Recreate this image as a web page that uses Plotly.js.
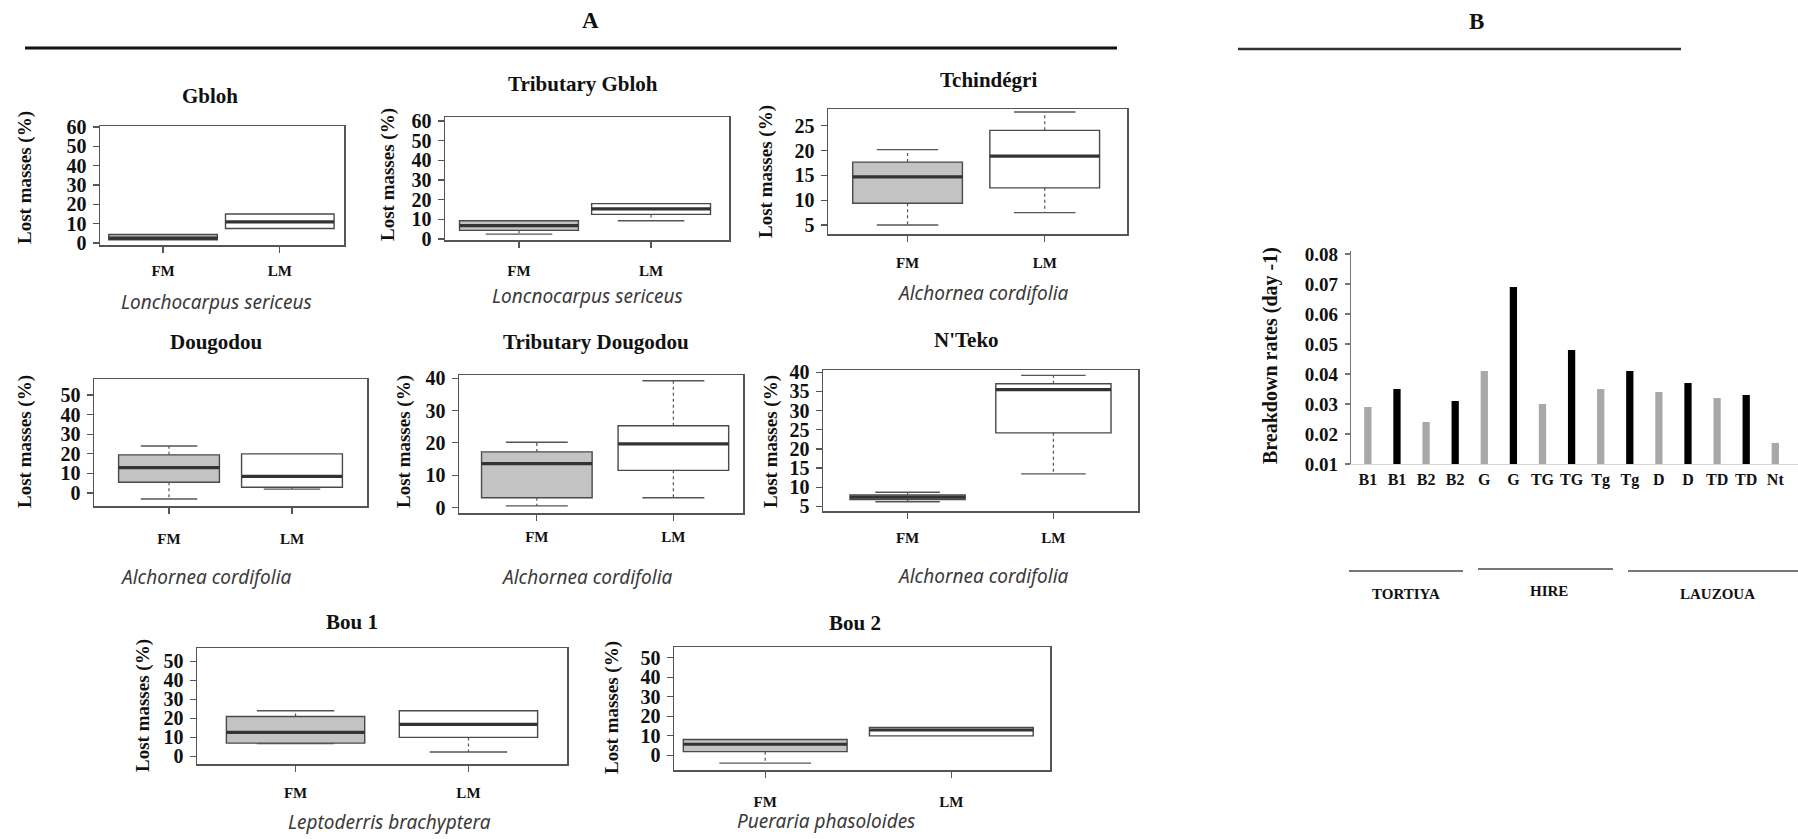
<!DOCTYPE html>
<html><head><meta charset="utf-8">
<script src="https://cdn.plot.ly/plotly-3.0.1.min.js"></script>
<style>html,body{margin:0;padding:0;background:#fff;}#chart{width:1798px;height:839px;}</style>
</head><body><div id="chart"></div>
<script>
// ---------- DATA ----------
const sites = ["Gbloh","Tributary Gbloh","Tchindégri","Dougodou","Tributary Dougodou","N'Teko","Bou 1","Bou 2"];
const species = ["Lonchocarpus sericeus","Loncnocarpus sericeus","Alchornea cordifolia","Alchornea cordifolia","Alchornea cordifolia","Alchornea cordifolia","Leptoderris brachyptera","Pueraria phasoloides"];
const groups = ["FM","LM"];
// FM boxes (lost masses %)
const fmMin = [1.7, 2.5, 5.0, -3.0, 0.5, 6.2, 6.7, -4.0];
const fmQ1  = [1.7, 4.4, 9.4, 5.5, 3.0, 6.8, 7.0, 1.9];
const fmMed = [2.6, 6.8, 14.7, 13.0, 13.6, 7.4, 12.6, 5.7];
const fmQ3  = [4.4, 9.3, 17.7, 19.5, 17.2, 8.0, 21.0, 8.1];
const fmMax = [4.4, 9.3, 20.2, 24.0, 20.2, 8.7, 24.0, 8.1];
// LM boxes (lost masses %)
const lmMin = [7.5, 9.3, 7.5, 2.0, 3.0, 13.5, 2.3, 10.0];
const lmQ1  = [7.5, 12.5, 12.5, 3.0, 11.5, 24.2, 10.0, 10.0];
const lmMed = [11.0, 15.3, 18.9, 8.5, 19.7, 35.5, 16.8, 13.0];
const lmQ3  = [15.0, 18.0, 24.1, 20.0, 25.3, 37.0, 24.0, 14.3];
const lmMax = [15.0, 18.0, 27.8, 20.0, 39.2, 39.2, 24.0, 14.3];
const yTickStep = [10, 10, 5, 10, 10, 5, 10, 10];
// Panel B
const barCodes = ["B1","B1","B2","B2","G","G","TG","TG","Tg","Tg","D","D","TD","TD","Nt"];
const rates = [0.029,0.035,0.024,0.031,0.041,0.069,0.030,0.048,0.035,0.041,0.034,0.037,0.032,0.033,0.017];
const rateTicks = [0.01,0.02,0.03,0.04,0.05,0.06,0.07,0.08];
const regions = ["TORTIYA","HIRE","LAUZOUA"];

// ---------- GEOMETRY / STYLE ----------
const W = 1798, H = 839;
const frames = [[100,344,126,245],[445,729,117,240],[828,1127,109,234],[94,367,379,506],[459,743,375,513],[823,1138,370,511],[197,567,648,764],[674,1050,647,770]];
const xRanges = [[-0.54,1.55],[-0.56,1.59],[-0.58,1.6],[-0.61,1.61],[-0.57,1.51],[-0.58,1.58],[-0.57,1.57],[-0.49,1.53]];
const yRanges = [[-1,60.5],[-0.5,62],[3.2,28.4],[-6.6,58.2],[-1.7,41],[3.8,40.6],[-4,57],[-7.5,55.5]];
const boxWidths = [0.93,0.9,0.8,0.82,0.81,0.79,0.8,0.88];
const xStand = [5,10,8,12,3,6,8,11];
const titlePos = [[210,96],[583,84],[988,80],[216,342],[596,342],[966,340],[352,622],[855,623]];
const ylabPos = [[25,178],[388,175],[766,172],[25,442],[404,442],[771,442],[143,706],[612,708]];
const speciesPos = [[216,302],[587,296],[983,293],[206,577],[587,577],[983,576],[389,822],[826,821]];
const regionLines = [[1349,1463,571],[1478,1613,569],[1628,1798,571]];
const regionLabelPos = [[1406,594],[1549,591],[1717,594]];

const serif = '"Liberation Serif", "Times New Roman", serif';
const px = x => x / W, py = y => 1 - y / H;

const traces = [];
const layout = {
  width: W, height: H, margin: {l:0, r:0, t:0, b:0},
  paper_bgcolor: '#fff', plot_bgcolor: '#fff',
  showlegend: false, hovermode: false, boxmode: 'overlay',
  annotations: [], shapes: []
};
function ann(text, x, y, font, extra) {
  layout.annotations.push(Object.assign({text, x: px(x), y: py(y), xref:'paper', yref:'paper',
    showarrow:false, xanchor:'center', yanchor:'middle', font}, extra || {}));
}

for (let i = 0; i < 8; i++) {
  const n = i + 1;
  const xa = 'x' + (n > 1 ? n : ''), ya = 'y' + (n > 1 ? n : '');
  const stats = [[fmMin[i], fmQ1[i], fmMed[i], fmQ3[i], fmMax[i]], [lmMin[i], lmQ1[i], lmMed[i], lmQ3[i], lmMax[i]]];
  const w = boxWidths[i];
  stats.forEach((s, g) => {
    const [mn, q1, md, q3, mx] = s;
    traces.push({type:'box', x:[g], q1:[q1], median:[md], q3:[q3], lowerfence:[q1], upperfence:[q3],
      width:w, whiskerwidth:0, fillcolor: g ? '#ffffff' : '#c3c3c3',
      line:{color:'#4a4a4a', width:1.4}, boxpoints:false, xaxis:xa, yaxis:ya, hoverinfo:'skip'});
    const wx = [], wy = [], cx = [], cy = [], cw = w * 0.28;
    if (mx > q3) { wx.push(g, g, null); wy.push(q3, mx, null); cx.push(g - cw, g + cw, null); cy.push(mx, mx, null); }
    if (mn < q1) { wx.push(g, g, null); wy.push(q1, mn, null); cx.push(g - cw, g + cw, null); cy.push(mn, mn, null); }
    if (wx.length) {
      traces.push({type:'scatter', mode:'lines', x:wx, y:wy, line:{color:'#555', width:1.2, dash:'dot'}, xaxis:xa, yaxis:ya, hoverinfo:'skip'});
      traces.push({type:'scatter', mode:'lines', x:cx, y:cy, line:{color:'#555', width:1.4}, xaxis:xa, yaxis:ya, hoverinfo:'skip'});
    }
    traces.push({type:'scatter', mode:'lines', x:[g - w / 2, g + w / 2], y:[md, md], line:{color:'#333', width:3.2}, xaxis:xa, yaxis:ya, hoverinfo:'skip'});
  });
  const f = frames[i];
  layout['xaxis' + (n > 1 ? n : '')] = {
    domain:[px(f[0]), px(f[1])], anchor:ya, range:xRanges[i],
    tickmode:'array', tickvals:[0, 1], ticktext:groups,
    ticks:'outside', ticklen:6, tickwidth:1.2, tickcolor:'#555',
    showline:true, mirror:true, linecolor:'#555', linewidth:1.5,
    showgrid:false, zeroline:false, ticklabelstandoff:xStand[i],
    tickfont:{family:serif, size:15, color:'#111', weight:700}, fixedrange:true
  };
  layout['yaxis' + (n > 1 ? n : '')] = {
    domain:[py(f[3]), py(f[2])], anchor:xa, range:yRanges[i],
    tickmode:'linear', tick0:0, dtick:yTickStep[i],
    ticks:'outside', ticklen:6, tickwidth:1.2, tickcolor:'#555',
    showline:true, mirror:true, linecolor:'#555', linewidth:1.5,
    showgrid:false, zeroline:false, ticklabelstandoff:2,
    tickfont:{family:serif, size:20, color:'#111', weight:700}, fixedrange:true
  };
  ann(sites[i], titlePos[i][0], titlePos[i][1], {family:serif, size:21, color:'#111', weight:700});
  ann('Lost masses (%)', ylabPos[i][0], ylabPos[i][1], {family:serif, size:19, color:'#111', weight:700}, {textangle:-90});
  ann(species[i], speciesPos[i][0], speciesPos[i][1], {family:'"Noto Sans", sans-serif', size:19, color:'#3a3a3a', style:'italic'});
}

// ---------- Panel B ----------
traces.push({type:'bar', x:barCodes.map((c, k) => k), y:rates, width:0.25,
  marker:{color:barCodes.map((c, k) => k % 2 ? '#000000' : '#a8a8a8')},
  xaxis:'x9', yaxis:'y9', hoverinfo:'skip'});
layout.xaxis9 = {
  domain:[px(1351), 1], anchor:'y9', range:[-0.58, 14.78],
  tickmode:'array', tickvals:barCodes.map((c, k) => k), ticktext:barCodes,
  ticks:'', showline:true, linecolor:'#d8d8d8', linewidth:1.2,
  showgrid:false, zeroline:false, ticklabelstandoff:1,
  tickfont:{family:serif, size:16, color:'#111', weight:700}, fixedrange:true
};
layout.yaxis9 = {
  domain:[py(464), py(251)], anchor:'x9', range:[0.01, 0.081],
  tickmode:'array', tickvals:rateTicks, ticktext:rateTicks.map(v => v.toFixed(2)),
  ticks:'outside', ticklen:5, tickwidth:1.2, tickcolor:'#777',
  showline:true, linecolor:'#777', linewidth:1.3,
  showgrid:false, zeroline:false, ticklabelstandoff:3,
  tickfont:{family:serif, size:19, color:'#111', weight:700}, fixedrange:true
};
ann('Breakdown rates (day -1)', 1270, 356, {family:serif, size:20, color:'#111', weight:700}, {textangle:-90});
regions.forEach((r, k) => {
  const L = regionLines[k];
  layout.shapes.push({type:'line', xref:'paper', yref:'paper', x0:px(L[0]), x1:px(L[1]), y0:py(L[2]), y1:py(L[2]), line:{color:'#777', width:2}});
  ann(r, regionLabelPos[k][0], regionLabelPos[k][1], {family:serif, size:15, color:'#111', weight:700});
});

// ---------- Section headers ----------
ann('A', 590, 21, {family:serif, size:23, color:'#111', weight:700});
ann('B', 1476, 22, {family:serif, size:23, color:'#111', weight:700});
layout.shapes.push({type:'line', xref:'paper', yref:'paper', x0:px(25), x1:px(1117), y0:py(48), y1:py(48), line:{color:'#111', width:3}});
layout.shapes.push({type:'line', xref:'paper', yref:'paper', x0:px(1238), x1:px(1681), y0:py(49), y1:py(49), line:{color:'#333', width:2.5}});

Plotly.newPlot('chart', traces, layout, {displayModeBar:false, staticPlot:true});
</script>
</body></html>
